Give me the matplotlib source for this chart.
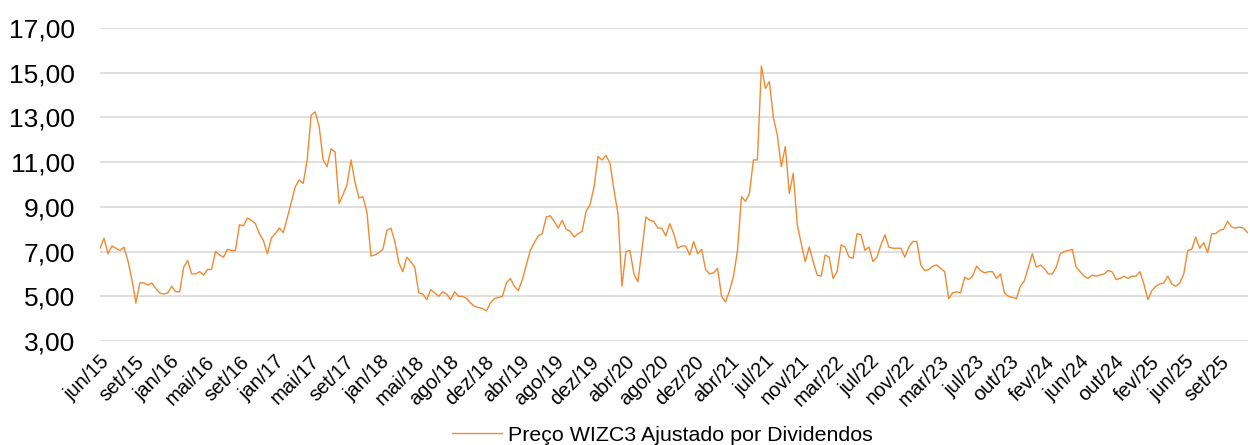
import numpy as np
import matplotlib
matplotlib.use("Agg")
import matplotlib.pyplot as plt

plt.rcParams['font.family'] = ['Liberation Sans', 'DejaVu Sans']

# preço ajustado (R$), leitura a cada ~4 px do gráfico original
preco_2015_16 = [7.15, 7.6, 6.9, 7.25, 7.15, 7.05, 7.2, 6.6, 5.75, 4.7, 5.6, 5.6, 5.5, 5.6,
                 5.35, 5.15, 5.1, 5.15, 5.45, 5.2, 5.2, 6.3, 6.6, 6.0, 6.0, 6.1, 5.95, 6.2, 6.2]
preco_2016_17 = [7.0, 6.85, 6.75, 7.1, 7.05, 7.05, 8.2, 8.15, 8.5, 8.4, 8.25, 7.8, 7.5, 6.9,
                 7.6, 7.8, 8.05, 7.85, 8.5, 9.2, 9.9, 10.2, 10.05, 11.1, 13.1, 13.25, 12.6, 11.1, 10.8]
preco_2017_18 = [11.6, 11.45, 9.15, 9.55, 10.0, 11.1, 10.1, 9.4, 9.45, 8.75, 6.8, 6.85, 6.95, 7.1,
                 7.95, 8.05, 7.45, 6.5, 6.1, 6.75, 6.55, 6.3, 5.15, 5.1, 4.85, 5.3, 5.15, 5.0, 5.2]
preco_2018_19 = [5.1, 4.85, 5.2, 5.0, 5.0, 4.9, 4.7, 4.55, 4.5, 4.45, 4.35, 4.7, 4.9, 4.95,
                 5.0, 5.6, 5.8, 5.45, 5.25, 5.75, 6.4, 7.05, 7.4, 7.7, 7.8, 8.55, 8.6, 8.35]
preco_2019_20 = [8.05, 8.4, 8.0, 7.9, 7.65, 7.8, 7.9, 8.8, 9.1, 9.9, 11.25, 11.1, 11.3, 10.95,
                 9.75, 8.7, 5.45, 7.0, 7.05, 6.0, 5.65, 7.05, 8.55, 8.4, 8.35, 8.05, 8.05, 7.7, 8.25]
preco_2020_21 = [7.8, 7.15, 7.25, 7.25, 6.85, 7.45, 6.9, 7.1, 6.2, 6.0, 6.05, 6.25, 5.0, 4.75,
                 5.25, 5.9, 7.05, 9.45, 9.25, 9.6, 11.1, 11.1, 15.3, 14.3, 14.6, 13.0, 12.2, 10.8, 11.7]
preco_2021_22 = [9.6, 10.5, 8.2, 7.35, 6.55, 7.2, 6.55, 5.95, 5.9, 6.85, 6.75, 5.8, 6.1, 7.3,
                 7.2, 6.75, 6.7, 7.8, 7.75, 7.05, 7.2, 6.55, 6.75, 7.3, 7.75, 7.2, 7.15, 7.15, 7.15]
preco_2022_23 = [6.75, 7.2, 7.45, 7.45, 6.4, 6.15, 6.2, 6.35, 6.4, 6.25, 6.1, 4.9, 5.15, 5.2,
                 5.15, 5.85, 5.75, 5.9, 6.35, 6.15, 6.05, 6.1, 6.1, 5.8, 6.0, 5.15, 5.0, 4.95]
preco_2023_24 = [4.9, 5.45, 5.7, 6.3, 6.9, 6.3, 6.4, 6.25, 6.0, 6.0, 6.3, 6.9, 7.0, 7.05,
                 7.1, 6.3, 6.1, 5.9, 5.8, 5.95, 5.9, 5.95, 6.0, 6.15, 6.1, 5.75, 5.8, 5.9, 5.8]
preco_2024_25 = [5.9, 5.9, 6.1, 5.55, 4.85, 5.25, 5.45, 5.55, 5.6, 5.9, 5.55, 5.45, 5.6, 6.0,
                 7.05, 7.1, 7.65, 7.15, 7.4, 6.95, 7.8, 7.8, 7.95, 8.0, 8.35, 8.1, 8.05, 8.1, 8.05, 7.85]

rotulos = ["jun/15", "set/15", "jan/16", "mai/16", "set/16", "jan/17", "mai/17", "set/17",
           "jan/18", "mai/18", "ago/18", "dez/18", "abr/19", "ago/19", "dez/19", "abr/20",
           "ago/20", "dez/20", "abr/21", "jul/21", "nov/21", "mar/22", "jul/22", "nov/22",
           "mar/23", "jul/23", "out/23", "fev/24", "jun/24", "out/24", "fev/25", "jun/25", "set/25"]

y_ticks = [3, 5, 7, 9, 11, 13, 15, 17]

precos = (preco_2015_16 + preco_2016_17 + preco_2017_18 + preco_2018_19 + preco_2019_20
          + preco_2020_21 + preco_2021_22 + preco_2022_23 + preco_2023_24 + preco_2024_25)
x = np.arange(len(precos))

fig = plt.figure(figsize=(12.5, 4.45), dpi=100)
ax = fig.add_axes([0.08, 0.2337, 0.918, 0.7034])

ax.plot(x, precos, color='#F08A32', linewidth=1.0, label='Preço WIZC3 Ajustado por Dividendos')

ax.set_ylim(3, 17)
ax.set_xlim(0, len(precos) - 1)
ax.set_yticks(y_ticks)
ax.set_yticklabels([f"{v:.2f}".replace('.', ',') for v in y_ticks], fontsize=19)
ax.tick_params(axis='y', length=0, pad=18)

passo = 8.78
ax.set_xticks(np.arange(len(rotulos)) * passo)
ax.set_xticklabels(rotulos, fontsize=14.5, rotation=45, ha='right', rotation_mode='anchor')
ax.tick_params(axis='x', length=0, pad=8)

ax.grid(axis='y', color='#D9D9D9', linewidth=1.2)
ax.set_axisbelow(True)
for s in ax.spines.values():
    s.set_visible(False)

fig.legend(loc='center', bbox_to_anchor=(0.53, 0.022), frameon=False, fontsize=15.4,
           handlelength=2.35, handletextpad=0.3)

fig.savefig('out.png', dpi=100)
